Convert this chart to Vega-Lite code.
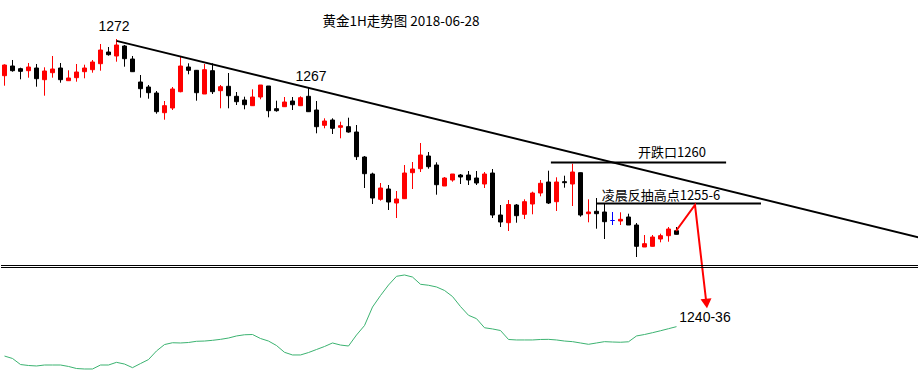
{
  "$schema": "https://vega.github.io/schema/vega-lite/v6.json",
  "padding": 0,
  "spacing": 0,
  "bounds": "flush",
  "background": "white",
  "config": {"view": {"stroke": null}, "scale": {"continuousPadding": 0}},
  "datasets": {
    "candles": [
      {"i":0,"o":1268.43,"h":1269.57,"l":1267.43,"c":1269.5,"v":23.1},
      {"i":1,"o":1269.4,"h":1270.0,"l":1268.83,"c":1268.93,"v":21.1},
      {"i":2,"o":1269.13,"h":1269.23,"l":1268.07,"c":1268.87,"v":16.1},
      {"i":3,"o":1268.93,"h":1269.7,"l":1268.23,"c":1269.3,"v":15.3},
      {"i":4,"o":1269.2,"h":1269.6,"l":1267.33,"c":1268.13,"v":14.9},
      {"i":5,"o":1268.03,"h":1269.27,"l":1266.43,"c":1268.9,"v":15.7},
      {"i":6,"o":1268.73,"h":1270.4,"l":1268.23,"c":1269.1,"v":15.7},
      {"i":7,"o":1269.2,"h":1269.7,"l":1267.73,"c":1268.03,"v":15.7},
      {"i":8,"o":1267.93,"h":1268.97,"l":1267.93,"c":1268.2,"v":14.5},
      {"i":9,"o":1268.23,"h":1269.6,"l":1267.83,"c":1268.8,"v":12.8},
      {"i":10,"o":1268.83,"h":1269.53,"l":1268.17,"c":1269.2,"v":12.4},
      {"i":11,"o":1269.03,"h":1270.0,"l":1268.73,"c":1269.8,"v":12.4},
      {"i":12,"o":1269.63,"h":1271.6,"l":1268.93,"c":1271.0,"v":15.7},
      {"i":13,"o":1270.8,"h":1271.3,"l":1270.43,"c":1270.53,"v":15.7},
      {"i":14,"o":1270.4,"h":1272.1,"l":1269.83,"c":1271.5,"v":17.9},
      {"i":15,"o":1271.4,"h":1271.5,"l":1269.33,"c":1270.13,"v":16.5},
      {"i":16,"o":1270.1,"h":1270.4,"l":1268.83,"c":1268.83,"v":13.5},
      {"i":17,"o":1267.8,"h":1268.5,"l":1266.23,"c":1267.13,"v":16.9},
      {"i":18,"o":1267.3,"h":1267.5,"l":1266.13,"c":1266.73,"v":20.2},
      {"i":19,"o":1266.7,"h":1266.9,"l":1264.63,"c":1264.83,"v":27.3},
      {"i":20,"o":1264.73,"h":1265.9,"l":1264.03,"c":1265.43,"v":32.6},
      {"i":21,"o":1265.2,"h":1267.3,"l":1265.0,"c":1267.1,"v":34.1},
      {"i":22,"o":1266.83,"h":1270.33,"l":1266.77,"c":1269.4,"v":33.9},
      {"i":23,"o":1269.3,"h":1269.67,"l":1268.57,"c":1268.97,"v":34.3},
      {"i":24,"o":1268.97,"h":1269.0,"l":1265.93,"c":1266.73,"v":35.3},
      {"i":25,"o":1266.6,"h":1269.6,"l":1266.6,"c":1269.03,"v":35.5},
      {"i":26,"o":1268.93,"h":1269.67,"l":1266.6,"c":1266.83,"v":36.1},
      {"i":27,"o":1266.93,"h":1267.5,"l":1265.17,"c":1267.33,"v":36.9},
      {"i":28,"o":1267.37,"h":1268.7,"l":1265.17,"c":1266.43,"v":38.0},
      {"i":29,"o":1266.37,"h":1266.8,"l":1265.5,"c":1265.83,"v":39.7},
      {"i":30,"o":1266.0,"h":1266.33,"l":1265.07,"c":1265.53,"v":40.7},
      {"i":31,"o":1265.43,"h":1267.07,"l":1265.43,"c":1266.3,"v":40.9},
      {"i":32,"o":1266.3,"h":1267.5,"l":1266.07,"c":1267.5,"v":37.6},
      {"i":33,"o":1267.4,"h":1267.4,"l":1264.27,"c":1264.93,"v":35.5},
      {"i":34,"o":1265.13,"h":1265.93,"l":1264.83,"c":1264.93,"v":31.8},
      {"i":35,"o":1265.33,"h":1266.3,"l":1265.33,"c":1265.8,"v":26.2},
      {"i":36,"o":1265.9,"h":1266.3,"l":1265.0,"c":1265.53,"v":24.0},
      {"i":37,"o":1265.43,"h":1266.37,"l":1265.43,"c":1266.23,"v":24.0},
      {"i":38,"o":1266.37,"h":1267.27,"l":1264.83,"c":1264.83,"v":26.0},
      {"i":39,"o":1265.0,"h":1265.9,"l":1262.67,"c":1263.33,"v":28.5},
      {"i":40,"o":1263.47,"h":1264.17,"l":1263.17,"c":1263.9,"v":31.0},
      {"i":41,"o":1264.0,"h":1264.17,"l":1262.6,"c":1263.17,"v":33.9},
      {"i":42,"o":1263.27,"h":1263.83,"l":1262.17,"c":1263.43,"v":32.2},
      {"i":43,"o":1263.33,"h":1264.23,"l":1262.73,"c":1262.8,"v":31.4},
      {"i":44,"o":1262.8,"h":1263.5,"l":1260.0,"c":1260.33,"v":40.5},
      {"i":45,"o":1260.3,"h":1260.4,"l":1257.2,"c":1258.63,"v":48.3},
      {"i":46,"o":1258.6,"h":1258.73,"l":1255.6,"c":1256.2,"v":63.6},
      {"i":47,"o":1256.07,"h":1257.7,"l":1255.93,"c":1257.2,"v":73.1},
      {"i":48,"o":1257.1,"h":1257.5,"l":1255.0,"c":1255.8,"v":81.8},
      {"i":49,"o":1255.7,"h":1256.9,"l":1254.2,"c":1256.1,"v":89.0},
      {"i":50,"o":1256.13,"h":1259.5,"l":1256.13,"c":1258.7,"v":90.1},
      {"i":51,"o":1258.73,"h":1259.8,"l":1257.1,"c":1259.1,"v":88.4},
      {"i":52,"o":1259.13,"h":1261.7,"l":1258.8,"c":1260.5,"v":82.4},
      {"i":53,"o":1260.4,"h":1260.8,"l":1259.13,"c":1259.33,"v":81.6},
      {"i":54,"o":1259.5,"h":1259.77,"l":1256.53,"c":1257.53,"v":80.2},
      {"i":55,"o":1257.4,"h":1258.3,"l":1257.4,"c":1258.2,"v":77.3},
      {"i":56,"o":1258.0,"h":1258.6,"l":1257.83,"c":1258.6,"v":72.3},
      {"i":57,"o":1258.5,"h":1258.6,"l":1257.6,"c":1258.3,"v":64.0},
      {"i":58,"o":1258.5,"h":1258.9,"l":1257.5,"c":1258.0,"v":56.8},
      {"i":59,"o":1258.2,"h":1258.9,"l":1257.5,"c":1257.7,"v":54.0},
      {"i":60,"o":1257.6,"h":1258.8,"l":1257.2,"c":1258.6,"v":46.5},
      {"i":61,"o":1258.7,"h":1259.1,"l":1254.2,"c":1254.5,"v":45.5},
      {"i":62,"o":1254.5,"h":1255.5,"l":1253.3,"c":1253.8,"v":44.2},
      {"i":63,"o":1253.73,"h":1256.0,"l":1252.9,"c":1255.55,"v":36.8},
      {"i":64,"o":1255.5,"h":1255.6,"l":1253.73,"c":1254.43,"v":36.4},
      {"i":65,"o":1254.57,"h":1256.07,"l":1254.1,"c":1255.83,"v":36.4},
      {"i":66,"o":1255.6,"h":1256.83,"l":1254.57,"c":1256.7,"v":36.4},
      {"i":67,"o":1256.7,"h":1258.0,"l":1256.37,"c":1257.67,"v":36.8},
      {"i":68,"o":1257.8,"h":1258.93,"l":1255.6,"c":1255.7,"v":36.9},
      {"i":69,"o":1255.83,"h":1258.27,"l":1254.9,"c":1257.8,"v":36.4},
      {"i":70,"o":1257.83,"h":1258.43,"l":1257.23,"c":1257.73,"v":35.5},
      {"i":71,"o":1257.6,"h":1259.63,"l":1255.4,"c":1258.8,"v":35.0},
      {"i":72,"o":1258.73,"h":1258.73,"l":1254.33,"c":1254.5,"v":33.9},
      {"i":73,"o":1254.63,"h":1256.07,"l":1253.77,"c":1254.8,"v":32.8},
      {"i":74,"o":1254.87,"h":1256.2,"l":1253.13,"c":1254.63,"v":33.9},
      {"i":75,"o":1254.8,"h":1255.6,"l":1252.1,"c":1253.83,"v":35.0},
      {"i":76,"o":1253.95,"h":1254.8,"l":1253.5,"c":1253.95,"v":34.7},
      {"i":77,"o":1253.9,"h":1254.77,"l":1253.5,"c":1254.07,"v":34.5},
      {"i":78,"o":1254.3,"h":1254.63,"l":1253.5,"c":1253.5,"v":34.9},
      {"i":79,"o":1253.5,"h":1253.7,"l":1250.3,"c":1251.37,"v":39.7},
      {"i":80,"o":1251.3,"h":1252.5,"l":1251.3,"c":1251.63,"v":40.9},
      {"i":81,"o":1251.37,"h":1252.5,"l":1251.37,"c":1252.3,"v":42.4},
      {"i":82,"o":1252.1,"h":1252.63,"l":1251.77,"c":1252.43,"v":44.0},
      {"i":83,"o":1252.43,"h":1253.3,"l":1251.83,"c":1253.1,"v":45.7},
      {"i":84,"o":1252.93,"h":1253.3,"l":1252.57,"c":1252.57,"v":47.4}
    ],
    "trend": [{"i0":14,"p0":1271.91,"i1":114.31,"p1":1252.25}],
    "levels": [{"i0":68.3,"i1":90.2,"p":1259.75},{"i0":74.0,"i1":94.56,"p":1255.65}],
    "arrow": [{"k":1,"i":83.94,"p":1252.9},{"k":2,"i":86.31,"p":1255.5},{"k":3,"i":87.69,"p":1246.0}],
    "arrowhead": [{"i":87.75,"p":1245.65}],
    "titles": [{"t":"黄金1H走势图 2018-06-28","i":49.56,"p":1273.83}],
    "cjk": [{"t":"开跌口1260","i":83.44,"p":1260.75},{"t":"凌晨反抽高点1255-6","i":82.06,"p":1256.45}],
    "nums": [{"t":"1272","i":13.69,"p":1273.35},{"t":"1267","i":38.31,"p":1268.3},{"t":"1240-36","i":87.56,"p":1244.2}],
    "sep": [{"v":97.93},{"v":96.28}]
  },
  "vconcat": [
    {
      "width": 918,
      "height": 263,
      "layer": [
        {
          "data": {"name": "candles"},
          "mark": {"type": "rule", "strokeWidth": 1},
          "encoding": {
            "x": {"field": "i", "type": "quantitative", "scale": {"domain": [-0.4375, 114.3125], "nice": false, "zero": false, "padding": 0}, "axis": null},
            "y": {"field": "l", "type": "quantitative", "scale": {"domain": [1249.7, 1276], "nice": false, "zero": false, "padding": 0}, "axis": null},
            "y2": {"field": "h"},
            "color": {"condition": [{"test": "datum.c > datum.o", "value": "#ff0000"}, {"test": "datum.c < datum.o", "value": "#000000"}], "value": "#0000ff"}
          }
        },
        {
          "data": {"name": "candles"},
          "mark": {"type": "bar", "size": 4, "strokeWidth": 1},
          "encoding": {
            "x": {"field": "i", "type": "quantitative", "scale": {"domain": [-0.4375, 114.3125], "nice": false, "zero": false, "padding": 0}, "axis": null},
            "y": {"field": "o", "type": "quantitative", "scale": {"domain": [1249.7, 1276], "nice": false, "zero": false, "padding": 0}, "axis": null},
            "y2": {"field": "c"},
            "fill": {"condition": [{"test": "datum.c > datum.o", "value": "#ff0000"}, {"test": "datum.c < datum.o", "value": "#000000"}], "value": "#0000ff"},
            "stroke": {"condition": [{"test": "datum.c > datum.o", "value": "#ff0000"}, {"test": "datum.c < datum.o", "value": "#000000"}], "value": "#0000ff"}
          }
        },
        {
          "data": {"name": "trend"},
          "mark": {"type": "rule", "strokeWidth": 2, "color": "#000000"},
          "encoding": {
            "x": {"field": "i0", "type": "quantitative", "scale": {"domain": [-0.4375, 114.3125], "nice": false, "zero": false, "padding": 0}, "axis": null},
            "x2": {"field": "i1"},
            "y": {"field": "p0", "type": "quantitative", "scale": {"domain": [1249.7, 1276], "nice": false, "zero": false, "padding": 0}, "axis": null},
            "y2": {"field": "p1"}
          }
        },
        {
          "data": {"name": "levels"},
          "mark": {"type": "rule", "strokeWidth": 2, "color": "#000000"},
          "encoding": {
            "x": {"field": "i0", "type": "quantitative", "scale": {"domain": [-0.4375, 114.3125], "nice": false, "zero": false, "padding": 0}, "axis": null},
            "x2": {"field": "i1"},
            "y": {"field": "p", "type": "quantitative", "scale": {"domain": [1249.7, 1276], "nice": false, "zero": false, "padding": 0}, "axis": null}
          }
        },
        {
          "data": {"name": "arrow"},
          "mark": {"type": "line", "strokeWidth": 2, "color": "#ff0000"},
          "encoding": {
            "x": {"field": "i", "type": "quantitative", "scale": {"domain": [-0.4375, 114.3125], "nice": false, "zero": false, "padding": 0}, "axis": null},
            "y": {"field": "p", "type": "quantitative", "scale": {"domain": [1249.7, 1276], "nice": false, "zero": false, "padding": 0}, "axis": null},
            "order": {"field": "k", "type": "quantitative"}
          }
        },
        {
          "data": {"name": "arrowhead"},
          "mark": {"type": "point", "shape": "triangle-down", "size": 121, "filled": true, "opacity": 1, "color": "#ff0000", "angle": 354},
          "encoding": {
            "x": {"field": "i", "type": "quantitative", "scale": {"domain": [-0.4375, 114.3125], "nice": false, "zero": false, "padding": 0}, "axis": null},
            "y": {"field": "p", "type": "quantitative", "scale": {"domain": [1249.7, 1276], "nice": false, "zero": false, "padding": 0}, "axis": null}
          }
        },
        {
          "data": {"name": "titles"},
          "mark": {"type": "text", "font": "Noto Sans CJK SC", "fontSize": 13.5, "color": "#000000", "align": "center", "baseline": "middle"},
          "encoding": {
            "x": {"field": "i", "type": "quantitative", "scale": {"domain": [-0.4375, 114.3125], "nice": false, "zero": false, "padding": 0}, "axis": null},
            "y": {"field": "p", "type": "quantitative", "scale": {"domain": [1249.7, 1276], "nice": false, "zero": false, "padding": 0}, "axis": null},
            "text": {"field": "t"}
          }
        },
        {
          "data": {"name": "cjk"},
          "mark": {"type": "text", "font": "Noto Sans CJK SC", "fontSize": 13, "color": "#000000", "align": "center", "baseline": "middle"},
          "encoding": {
            "x": {"field": "i", "type": "quantitative", "scale": {"domain": [-0.4375, 114.3125], "nice": false, "zero": false, "padding": 0}, "axis": null},
            "y": {"field": "p", "type": "quantitative", "scale": {"domain": [1249.7, 1276], "nice": false, "zero": false, "padding": 0}, "axis": null},
            "text": {"field": "t"}
          }
        },
        {
          "data": {"name": "nums"},
          "mark": {"type": "text", "font": "Liberation Sans", "fontSize": 14, "color": "#000000", "align": "center", "baseline": "middle"},
          "encoding": {
            "x": {"field": "i", "type": "quantitative", "scale": {"domain": [-0.4375, 114.3125], "nice": false, "zero": false, "padding": 0}, "axis": null},
            "y": {"field": "p", "type": "quantitative", "scale": {"domain": [1249.7, 1276], "nice": false, "zero": false, "padding": 0}, "axis": null},
            "text": {"field": "t"}
          }
        }
      ]
    },
    {
      "width": 918,
      "height": 121,
      "layer": [
        {
          "data": {"name": "sep"},
          "mark": {"type": "rule", "strokeWidth": 1, "color": "#000000"},
          "encoding": {
            "y": {"field": "v", "type": "quantitative", "scale": {"domain": [0, 100], "nice": false, "zero": false, "padding": 0}, "axis": null}
          }
        },
        {
          "data": {"name": "candles"},
          "mark": {"type": "line", "strokeWidth": 1, "color": "#3cb371"},
          "encoding": {
            "x": {"field": "i", "type": "quantitative", "scale": {"domain": [-0.4375, 114.3125], "nice": false, "zero": false, "padding": 0}, "axis": null},
            "y": {"field": "v", "type": "quantitative", "scale": {"domain": [0, 100], "nice": false, "zero": false, "padding": 0}, "axis": null}
          }
        }
      ]
    }
  ]
}
